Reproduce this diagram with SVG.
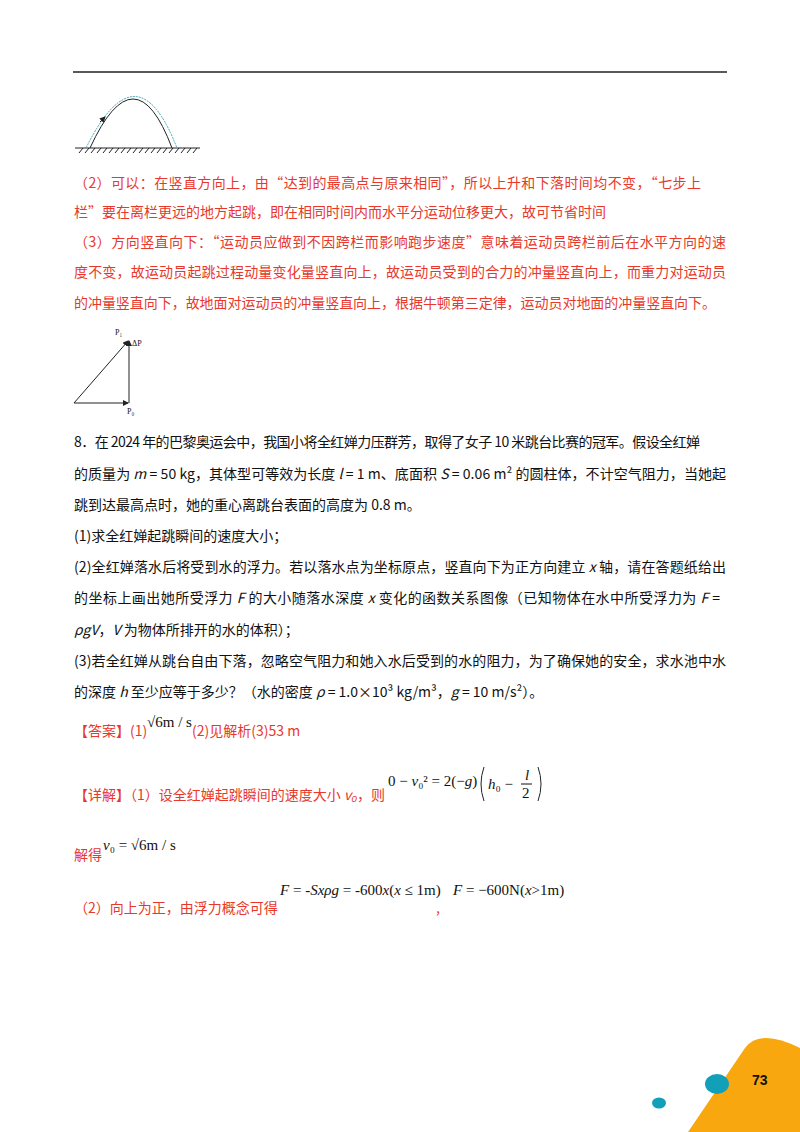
<svg xmlns="http://www.w3.org/2000/svg" width="800" height="1132" viewBox="0 0 800 1132">
<style>
.r{font-family:"Noto Sans CJK SC","Liberation Sans",sans-serif;font-size:14px;fill:#e8382c}
.b{font-family:"Noto Sans CJK SC","Liberation Sans",sans-serif;font-size:14px;fill:#111}
.m{font-family:"Liberation Serif",serif;font-size:15px;fill:#111}
.s{font-family:"Liberation Serif",serif;font-size:8px;fill:#111}
.ln{stroke:#222;stroke-width:1;fill:none}
</style>
<defs><marker id="a" markerWidth="6" markerHeight="6" refX="5" refY="3" orient="auto"><path d="M0,0L6,3L0,6z" fill="#222"/></marker></defs>
<rect width="800" height="1132" fill="#fff"/>
<line x1="73" y1="72" x2="727" y2="72" stroke="#222" stroke-width="1.5"/>
<g id="fig1">
<line x1="75" y1="148" x2="200" y2="148" stroke="#222"/>
<path d="M79,153l4,-5M85,153l4,-5M91,153l4,-5M97,153l4,-5M103,153l4,-5M109,153l4,-5M115,153l4,-5M121,153l4,-5M127,153l4,-5M133,153l4,-5M139,153l4,-5M145,153l4,-5M151,153l4,-5M157,153l4,-5M163,153l4,-5M169,153l4,-5M175,153l4,-5M181,153l4,-5M187,153l4,-5M193,153l4,-5" stroke="#222"/>
<path d="M90,148Q135,50 172,148" class="ln"/>
<path d="M86,148Q137,45 177,148" fill="none" stroke="#3aa7b5" stroke-dasharray="2,1"/>
<path d="M100,122l5,-5" stroke="#222" marker-end="url(#a)"/>
</g>
<text class="r" x="74" y="188" textLength="627">（2）可以：在竖直方向上，由“达到的最高点与原来相同”，所以上升和下落时间均不变，“七步上</text>
<text class="r" x="74" y="217" textLength="532">栏”要在离栏更远的地方起跳，即在相同时间内而水平分运动位移更大，故可节省时间</text>
<text class="r" x="74" y="247" textLength="652">（3）方向竖直向下：“运动员应做到不因跨栏而影响跑步速度”意味着运动员跨栏前后在水平方向的速</text>
<text class="r" x="74" y="277" textLength="652">度不变，故运动员起跳过程动量变化量竖直向上，故运动员受到的合力的冲量竖直向上，而重力对运动员</text>
<text class="r" x="74" y="308" textLength="642">的冲量竖直向下，故地面对运动员的冲量竖直向上，根据牛顿第三定律，运动员对地面的冲量竖直向下。</text>
<g id="fig2">
<line x1="74" y1="403" x2="128" y2="403" class="ln" marker-end="url(#a)"/>
<line x1="74" y1="403" x2="128" y2="341" class="ln" marker-end="url(#a)"/>
<line x1="129" y1="403" x2="129" y2="341" class="ln" marker-end="url(#a)"/>
<text class="s" x="115" y="335">P₁</text>
<text class="s" x="132" y="346">ΔP</text>
<text class="s" x="127" y="414">P₀</text>
</g>
<text class="b" x="74" y="447" textLength="626">8．在 2024 年的巴黎奥运会中，我国小将全红婵力压群芳，取得了女子 10 米跳台比赛的冠军。假设全红婵</text>
<text class="b" x="74" y="479" textLength="652">的质量为 <tspan font-style="italic">m</tspan> = 50 kg，其体型可等效为长度 <tspan font-style="italic">l</tspan> = 1 m、底面积 <tspan font-style="italic">S</tspan> = 0.06 m² 的圆柱体，不计空气阻力，当她起</text>
<text class="b" x="74" y="510">跳到达最高点时，她的重心离跳台表面的高度为 0.8 m。</text>
<text class="b" x="74" y="541">(1)求全红婵起跳瞬间的速度大小；</text>
<text class="b" x="74" y="572" textLength="652">(2)全红婵落水后将受到水的浮力。若以落水点为坐标原点，竖直向下为正方向建立 <tspan font-style="italic">x</tspan> 轴，请在答题纸给出</text>
<text class="b" x="74" y="603" textLength="646">的坐标上画出她所受浮力 <tspan font-style="italic">F</tspan> 的大小随落水深度 <tspan font-style="italic">x</tspan> 变化的函数关系图像（已知物体在水中所受浮力为 <tspan font-style="italic">F</tspan> =</text>
<text class="b" x="74" y="635"><tspan font-style="italic">ρgV</tspan>，<tspan font-style="italic">V</tspan> 为物体所排开的水的体积）；</text>
<text class="b" x="74" y="666" textLength="652">(3)若全红婵从跳台自由下落，忽略空气阻力和她入水后受到的水的阻力，为了确保她的安全，求水池中水</text>
<text class="b" x="74" y="697">的深度 <tspan font-style="italic">h</tspan> 至少应等于多少？（水的密度 <tspan font-style="italic">ρ</tspan> = 1.0×10³ kg/m³，<tspan font-style="italic">g</tspan> = 10 m/s²）。</text>
<text class="r" x="74" y="736">【答案】(1)</text>
<text class="m" x="147" y="727">√6m / s</text>
<text class="r" x="192" y="736">(2)见解析(3)53 m</text>
<text class="r" x="74" y="800">【详解】（1）设全红婵起跳瞬间的速度大小 <tspan font-style="italic">v₀</tspan>，则</text>
<text class="m" x="388" y="786">0 − <tspan font-style="italic">v</tspan>₀² = 2(−<tspan font-style="italic">g</tspan>)</text>
<path d="M484,767q-6,17 0,34M538,767q6,17 0,34" class="ln"/>
<text class="m" x="488" y="789"><tspan font-style="italic">h</tspan>₀ −</text>
<text class="m" x="525" y="780" font-style="italic">l</text>
<line x1="521" y1="784" x2="532" y2="784" stroke="#111"/>
<text class="m" x="522" y="798">2</text>
<text class="r" x="74" y="860">解得</text>
<text class="m" x="103" y="850"><tspan font-style="italic">v</tspan>₀ = √6m / s</text>
<text class="r" x="74" y="913">（2）向上为正，由浮力概念可得</text>
<text class="m" x="280" y="895"><tspan font-style="italic">F</tspan> = -<tspan font-style="italic">Sxρg</tspan> = -600<tspan font-style="italic">x</tspan>(<tspan font-style="italic">x</tspan> ≤ 1m)</text>
<text class="r" x="436" y="913">,</text>
<text class="m" x="453" y="895"><tspan font-style="italic">F</tspan> = −600N(<tspan font-style="italic">x</tspan>&gt;1m)</text>
<g id="corner">
<path d="M688,1132L745,1048Q760,1028 800,1048L800,1132Z" fill="#f8a80e"/>
<ellipse cx="717" cy="1084" rx="12" ry="10" fill="#129fb8"/>
<ellipse cx="659" cy="1103" rx="7" ry="5.5" fill="#129fb8"/>
<text x="752" y="1085" font-family="Liberation Sans,sans-serif" font-weight="bold" font-size="14" fill="#111">73</text>
</g>
</svg>
